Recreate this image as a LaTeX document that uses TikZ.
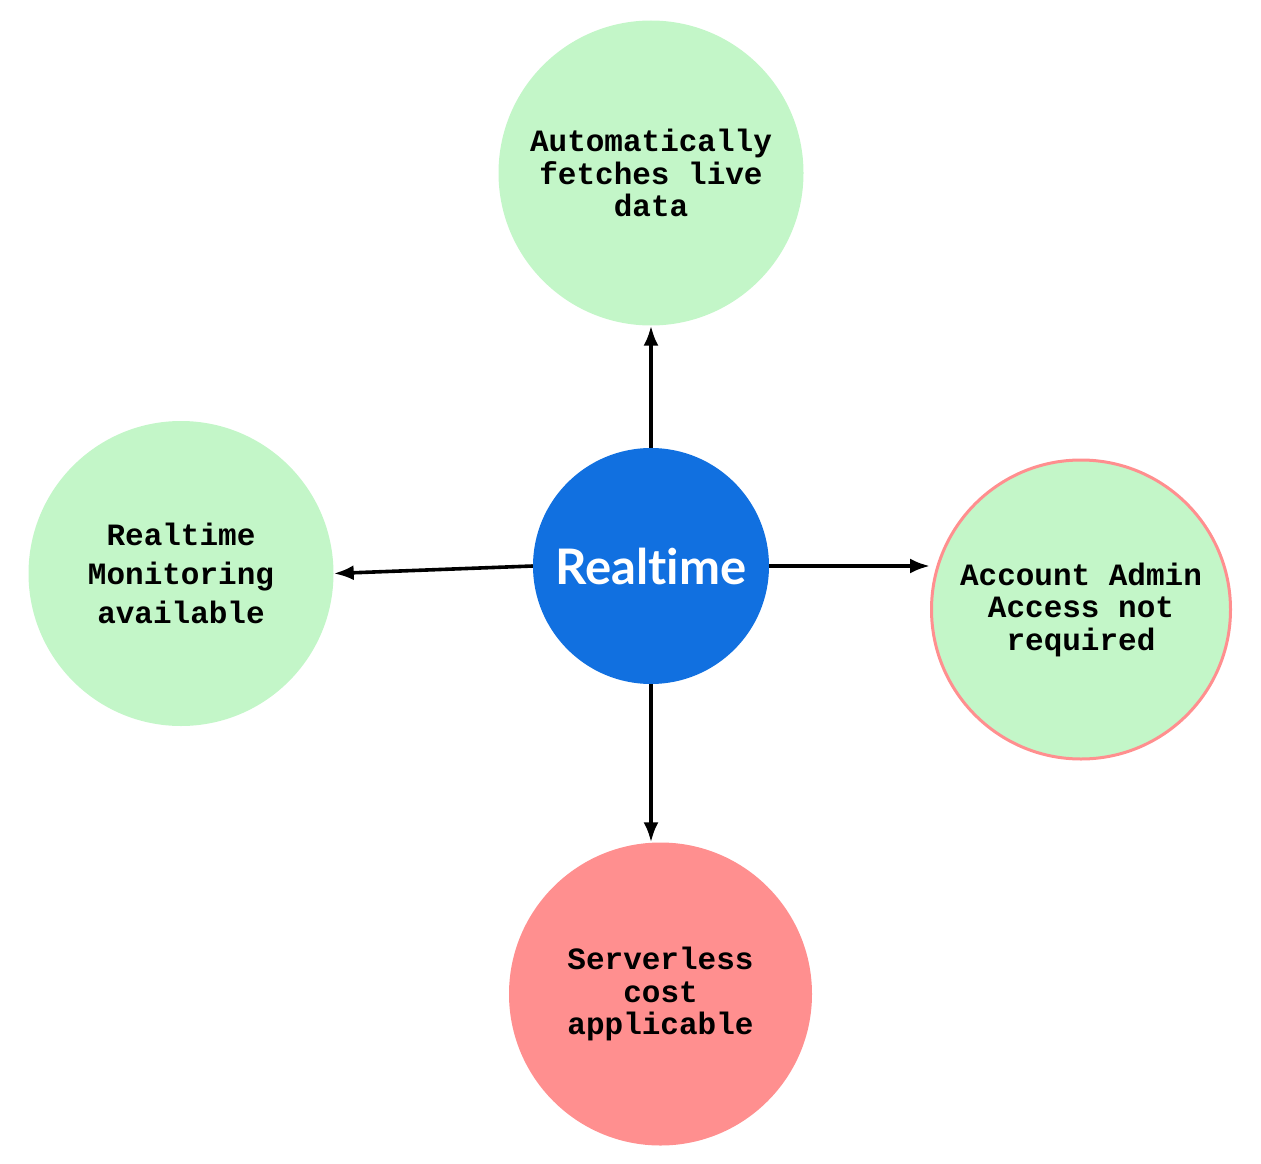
\documentclass[tikz,border=0pt]{standalone}
\usepackage{fontspec}
\setmonofont{Liberation Mono}
\newfontfamily\latofont[Ligatures=NoCommon]{Lato}
\usetikzlibrary{arrows.meta}
\definecolor{blobgreen}{HTML}{C3F6C8}
\definecolor{blobred}{HTML}{FF8F8F}
\definecolor{hubblue}{HTML}{1170E0}
\tikzset{
  blobtext/.style={circle, minimum size=305pt, inner sep=0pt, align=center,
    font=\ttfamily\bfseries\fontsize{31}{32.5}\selectfont},
  hub/.style={circle, fill=hubblue, minimum size=236pt, inner sep=0pt, text=white,
    font=\latofont\bfseries\fontsize{49}{52}\selectfont},
  conn/.style={line width=3.6pt, -{Latex[length=20pt,width=15pt]}}
}
\begin{document}
\begin{tikzpicture}[x=1pt,y=-1pt]
\useasboundingbox (0,0) rectangle (1261,1164);
% nodes
\node[hub] (hub) at (651,566) {Realtime};
\node[blobtext, fill=blobgreen] (top) at (651,173) {Automatically\\fetches live\\data};
\node[blobtext, fill=blobgreen, font=\ttfamily\bfseries\fontsize{31}{39}\selectfont] (left) at (181,573.5) {Realtime\\Monitoring\\available};
\node[blobtext, fill=blobgreen, draw=blobred, line width=3pt, minimum size=299pt] (right) at (1081,609.5) {Account Admin\\Access not\\required};
\node[blobtext, fill=blobred, minimum size=303pt] (bottom) at (660.5,994) {Serverless\\cost\\applicable};
% connectors
\draw[conn] (hub.north) -- (top.south);
\draw[conn] (hub.west) -- (left.east);
\draw[conn] (hub.east) -- (hub.east -| right.west);
\draw[conn] (hub.south) -- (hub.south |- bottom.north);
\end{tikzpicture}
\end{document}
